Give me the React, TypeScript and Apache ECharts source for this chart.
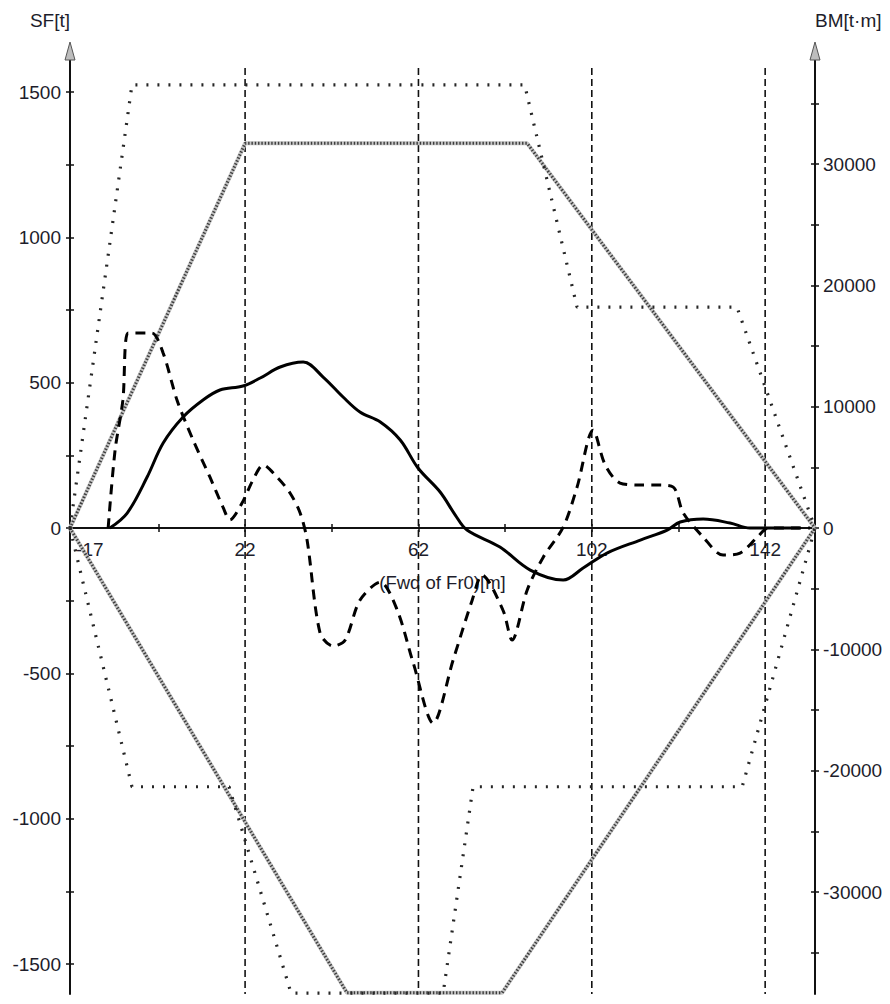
import React, { useEffect, useRef } from 'react';
import * as echarts from 'echarts';

// ---------- axis ranges ----------
const X_MIN = -18.4;
const X_MAX = 153.5;
const SF_MIN = -1603;
const SF_MAX = 1638;
const BM_MIN = -38400;
const BM_MAX = 39230;

// ---------- ticks & labels ----------
const xLabelValues = [22, 62, 102, 142];
const xEndLabelValues = [-17];
const xTickValues = [2, 22, 42, 62, 82, 102, 122, 142];
const sectionX = [22, 62, 102, 142];
const sectionTop = 1583;
const sfLabelValues = [-1500, -1000, -500, 0, 500, 1000, 1500];
const sfTickValues = [-1500, -1250, -1000, -750, -500, -250, 0, 250, 500, 750, 1000, 1250, 1500];
const bmLabelValues = [-30000, -20000, -10000, 0, 10000, 20000, 30000];
const bmTickValues = [-35000, -30000, -25000, -20000, -15000, -10000, -5000, 0, 5000, 10000, 15000, 20000, 25000, 30000, 35000];

// ---------- series data ----------
// Shear force [t] (dashed)
const sfCurve: number[][] = [
  [-9.6, 0], [-8.0, 268], [-6.2, 440], [-5.0, 671], [-2.2, 671], [0.5, 671],
  [3.1, 602], [6.3, 440], [10.0, 303], [13.9, 175], [16.9, 72], [18.5, 28],
  [21.3, 86], [23.8, 165], [26.2, 217], [29.4, 175], [32.4, 120], [34.7, 52],
  [36.3, -41], [39.3, -361], [42.3, -406], [45.1, -385], [48.5, -248], [53.2, -186],
  [57.1, -282], [60.8, -464], [65.4, -671], [70.0, -454], [74.4, -248], [76.7, -162],
  [81.5, -282], [83.6, -385], [87.1, -213], [90.8, -100], [95.4, 3], [98.6, 141],
  [102.3, 337], [105.1, 217], [108.5, 155], [113.2, 148], [117.1, 148], [120.8, 141],
  [123.1, 52], [127.7, -31], [132.3, -93], [136.2, -86], [140.2, -31], [142.7, 0], [152.4, 0],
];
// Bending moment [t·m] (solid)
const bmCurve: number[][] = [
  [-9.2, 0], [-5.2, 1236], [-0.6, 4203], [3.1, 7006], [7.7, 9149], [12.3, 10550],
  [16.2, 11374], [21.5, 11703], [25.5, 12363], [30.1, 13270], [35.4, 13682], [40.0, 12445],
  [44.6, 10797], [48.5, 9561], [53.2, 8736], [57.8, 7253], [61.9, 4945], [67.0, 2967],
  [70.5, 1071], [73.2, -165], [80.8, -1566], [87.8, -3462], [95.4, -4286], [100.0, -3297],
  [105.5, -2060], [113.2, -989], [119.4, -165], [122.4, 495], [127.7, 742], [133.9, 412],
  [138.5, 0], [150.0, 0],
];
// Shear force limits (sparse dotted)
const sfLimitUpper: number[][] = [
  [-18.4, 0], [-4.1, 1525], [86.5, 1525], [98.6, 760], [135.5, 760], [153.5, 0],
];
const sfLimitLower: number[][] = [
  [-18.4, 0], [-4.1, -890], [18.3, -890], [32.6, -1600], [67.7, -1600], [74.6, -890],
  [136.7, -890], [153.5, 0],
];
// Bending moment limits (dense hatched)
const bmLimitUpper: number[][] = [[-18.4, 0], [22, 31700], [87.1, 31700], [153.5, 0]];
const bmLimitLower: number[][] = [[-18.4, 0], [45.5, -38300], [81.3, -38300], [153.5, 0]];

const FONT = "'Liberation Sans', Arial, Helvetica, sans-serif";
const TXT = '#1d1d2b';
const AX = '#111';
const GRID_TOP = 52;
const GRID_BOTTOM = 10;
const CHART_H = 1004;

function buildOption(): any {
  const base = { type: 'line', symbol: 'none', silent: true, animation: false } as any;
  const series: any[] = [];

  sectionX.forEach((x) => {
    series.push({
      ...base,
      xAxisIndex: 0,
      yAxisIndex: 0,
      data: [[x, sectionTop], [x, SF_MIN]],
      lineStyle: { color: AX, width: 1.6, type: [7, 4] },
      z: 2,
    });
  });

  [bmLimitUpper, bmLimitLower].forEach((d) => {
    series.push({ ...base, xAxisIndex: 0, yAxisIndex: 2, data: d, lineStyle: { color: '#c4c4c4', width: 4 }, z: 3 });
    series.push({ ...base, xAxisIndex: 0, yAxisIndex: 2, data: d, lineStyle: { color: '#3c3c3c', width: 3, type: [1.4, 1.9] }, z: 4 });
  });

  [sfLimitUpper, sfLimitLower].forEach((d) => {
    series.push({ ...base, xAxisIndex: 0, yAxisIndex: 0, data: d, lineStyle: { color: '#262626', width: 3.2, type: [2, 9] }, z: 4 });
  });

  series.push({
    ...base,
    name: 'BM',
    xAxisIndex: 0,
    yAxisIndex: 2,
    data: bmCurve,
    smooth: 0.35,
    lineStyle: { color: '#000', width: 3 },
    z: 6,
  });
  series.push({
    ...base,
    name: 'SF',
    xAxisIndex: 0,
    yAxisIndex: 0,
    data: sfCurve,
    smooth: 0.3,
    lineStyle: { color: '#000', width: 3, type: [10, 7] },
    z: 6,
  });

  const plain = (v: number) => String(v);
  const labelStyle = { fontFamily: FONT, fontSize: 19, color: TXT };
  const tickLine = { color: AX, width: 1.5 };

  // pixel position of value 0 on the SF axis -> used to lift the x axis onto the zero line
  const plotH = CHART_H - GRID_TOP - GRID_BOTTOM;
  const zeroFromBottom = (0 - SF_MIN) / (SF_MAX - SF_MIN) * plotH;
  const xOffset = -zeroFromBottom;

  return {
    animation: false,
    backgroundColor: '#fff',
    textStyle: { fontFamily: FONT },
    grid: { left: 70, right: 75, top: GRID_TOP, bottom: GRID_BOTTOM, containLabel: false, outerBoundsMode: 'none' },
    xAxis: [
      {
        type: 'value',
        min: X_MIN,
        max: X_MAX,
        position: 'bottom',
        offset: xOffset,
        axisLine: { show: true, onZero: false, lineStyle: { color: AX, width: 2 } },
        axisTick: { show: true, length: 4, customValues: xTickValues, lineStyle: tickLine },
        axisLabel: { ...labelStyle, customValues: xLabelValues, margin: 12, formatter: plain },
        splitLine: { show: false },
        name: '(Fwd of Fr0)[m]',
        nameLocation: 'middle',
        nameGap: 54,
        nameTextStyle: { ...labelStyle, fontSize: 18.5, verticalAlign: 'middle' },
      },
      {
        type: 'value',
        min: X_MIN,
        max: X_MAX,
        position: 'bottom',
        offset: xOffset,
        axisLine: { show: false, onZero: false },
        axisTick: { show: true, inside: true, length: 4, customValues: xTickValues, lineStyle: tickLine },
        axisLabel: { ...labelStyle, customValues: xEndLabelValues, margin: 12, align: 'left', formatter: plain },
        splitLine: { show: false },
      },
    ],
    yAxis: [
      {
        type: 'value',
        min: SF_MIN,
        max: SF_MAX,
        position: 'left',
        axisLine: { show: true, onZero: false, lineStyle: { color: AX, width: 2 } },
        axisTick: { show: true, length: 4, customValues: sfTickValues, lineStyle: tickLine },
        axisLabel: { ...labelStyle, customValues: sfLabelValues, margin: 9, formatter: plain },
        splitLine: { show: false },
        name: 'SF[t]',
        nameLocation: 'end',
        nameGap: 32,
        nameTextStyle: { ...labelStyle, align: 'right', verticalAlign: 'middle' },
      },
      {
        type: 'value',
        min: SF_MIN,
        max: SF_MAX,
        position: 'left',
        axisLine: { show: false, onZero: false },
        axisTick: { show: true, inside: true, length: 4, customValues: sfTickValues, lineStyle: tickLine },
        axisLabel: { show: false },
        splitLine: { show: false },
      },
      {
        type: 'value',
        min: BM_MIN,
        max: BM_MAX,
        position: 'right',
        axisLine: { show: true, onZero: false, lineStyle: { color: AX, width: 2 } },
        axisTick: { show: true, length: 4, customValues: bmTickValues, lineStyle: tickLine },
        axisLabel: { ...labelStyle, customValues: bmLabelValues, margin: 8, formatter: plain },
        splitLine: { show: false },
        name: 'BM[t·m]',
        nameLocation: 'end',
        nameGap: 32,
        nameTextStyle: { ...labelStyle, align: 'left', verticalAlign: 'middle' },
      },
      {
        type: 'value',
        min: BM_MIN,
        max: BM_MAX,
        position: 'right',
        axisLine: { show: false, onZero: false },
        axisTick: { show: true, inside: true, length: 4, customValues: bmTickValues, lineStyle: tickLine },
        axisLabel: { show: false },
        splitLine: { show: false },
      },
    ],
    graphic: [
      {
        type: 'polygon',
        shape: { points: [[70, 42], [65, 60], [75, 60]] },
        style: { fill: '#bdbdbd', stroke: '#555', lineWidth: 1 },
        z: 100,
      },
      {
        type: 'polygon',
        shape: { points: [[815, 42], [810, 60], [820, 60]] },
        style: { fill: '#bdbdbd', stroke: '#555', lineWidth: 1 },
        z: 100,
      },
    ],
    series,
  };
}

export default function App() {
  const ref = useRef<HTMLDivElement>(null);
  useEffect(() => {
    if (!ref.current) return;
    const chart = echarts.init(ref.current, null, { renderer: 'svg' });
    chart.setOption(buildOption());
    return () => chart.dispose();
  }, []);
  return (
    <div
      ref={ref}
      style={{ position: 'fixed', left: 0, top: 0, width: 890, height: 1004, background: '#fff' }}
    />
  );
}
